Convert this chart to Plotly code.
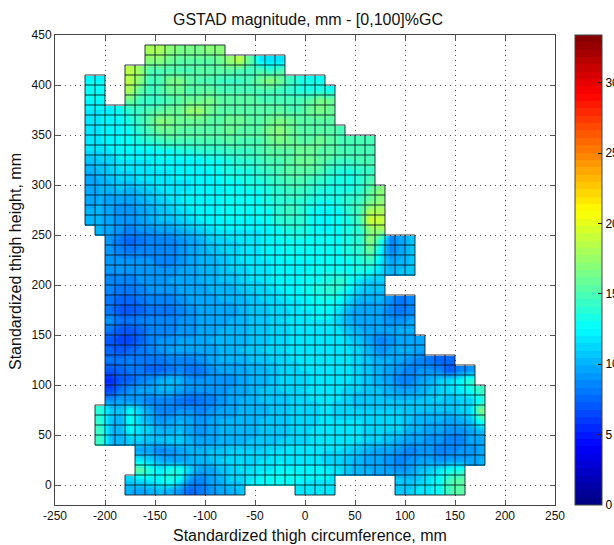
import plotly.graph_objects as go

N = None
title_text = "GSTAD magnitude, mm - [0,100]%GC"
x_label = "Standardized thigh circumference, mm"
y_label = "Standardized thigh height, mm"
x_ticks = [-250, -200, -150, -100, -50, 0, 50, 100, 150, 200, 250]
x_tick_labels = ["-250", "-200", "-150", "-100", "-50", "0", "50", "100", "150", "200", "250"]
y_ticks = [0, 50, 100, 150, 200, 250, 300, 350, 400, 450]
bar_ticks = [0, 5, 10, 15, 20, 25, 30]
z_max = 33.4

x_edges = list(range(-220, 181, 10))

rows = [
 [18,18,17,16.5,16.5,16.5,17,17],
 [17,17,16,15.5,15.5,15.5,15.5,16,17.5,18.5,15.5,12,11.5,11.5],
 [18.5,17.5,15,15,15,15,15,15.5,15.5,15.5,15.5,15,14.5,15,14,15],
 [12.5,12.5,N,N,18.5,17,14.5,15,16.5,16.5,15.5,15,15,14.5,14.5,14.5,15,16,17,16,14.5,13.5,13,13],
 [13,13,N,N,18,15.5,14.5,15,16,16,15,15.5,15.5,15,15,15,15,15,15,14.5,14,13.5,13.5,13.5,13],
 [12.5,12.5,N,N,16,14.5,14,14.5,15,15.5,16,16,16.5,15.5,15.5,15.5,15.5,15,15,15,15,15,15.5,16.5,16],
 [12,12,12,13,14,14.5,15,15.5,16,16,17.5,17.5,16,15.5,15.5,15.5,15.5,15.5,15.5,15.5,15,15,16,16.5,16],
 [12,12,12.5,12.5,13.5,14.5,15.5,17,16.5,16,16,16,15.5,15.5,16,16,15.5,15.5,16,16.5,16,15.5,15.5,15.5,15.5],
 [12,12,12.5,12.5,13,14,15,16,16,15.5,15.5,15.5,15.5,15.5,16,15.5,15.5,15.5,16.5,17,16,15.5,15.5,15.5,15.5,15],
 [12,12,12.5,12.5,13,13.5,14,14.5,15,15,15,15,15,15,15.5,15,15,15,16,16.5,16,15.5,15.5,16,15.5,15,15,15,15],
 [11.5,11.5,12,12.5,12.5,12.5,12.5,13,13,13.5,13.5,14,14,14,14.5,14.5,14.5,15,15.5,15.5,15.5,16,16,15.5,15.5,15,15,15,15],
 [10.5,11,11,12,12,12,12,12.5,12.5,12.5,12.5,12.5,13,13,13.5,14,14,14.5,15,15,15.5,16,16,15.5,15,14.5,14.5,15,15],
 [10,10.5,11,11.5,11.5,12,12,12,12,12.5,12.5,12.5,12.5,13,13.5,13.5,13.5,14,14.5,15,15.5,15.5,15.5,15,14,13.5,13.5,14,14.5],
 [9.5,10,10.5,11,11,11.5,11.5,12,12,12,12,12.5,12.5,12.5,13,13,13.5,13.5,14,14.5,15,15,14.5,14,13.5,13.5,13,14,15],
 [9.5,10,10,10.5,10,10.5,11,11.5,12,12,12,12.5,12.5,12.5,12.5,13,13,13,13.5,14,14.5,14.5,14,13.5,13.5,13.5,13.5,14,15.5,17],
 [9.5,10,9.5,9.5,9.5,10,10.5,11,11.5,12,12.5,12.5,12.5,12.5,13,13,13,13,13.5,14,14,14,13.5,13,13,13.5,14,14.5,16,17],
 [10,10,9.5,9,9,9.5,10,10.5,11,11.5,12,12.5,12.5,12.5,13,13,12.5,13,13,14,14.5,14,13,12.5,12.5,13,14,15,18,18],
 [10,10,9.5,9,9,9.5,10,10.5,10.5,11,11.5,12,12.5,12.5,12.5,12.5,12.5,12.5,13,14,14,14,13,12.5,12.5,13,13.5,15,19.5,19],
 [10,9.5,9,8.5,9,9,9.5,9.5,10,10.5,11,11.5,12,12,12,12,12,12.5,13,13.5,13.5,13,12.5,12.5,13,13.5,14,17,17.5],
 [9,8,7.5,8,8.5,8.5,8.5,9,9.5,10,11,11,11.5,11.5,12,12,12.5,12.5,13,13,13,13,13,13,13.5,14,17,14,8.5,9.5,10.5],
 [9,8.5,8,8.5,8.5,8.5,8.5,9,9.5,10,10.5,11,11,11.5,12,12,12.5,12.5,13,13,13,13,13,13,13.5,14,16,12.5,8.5,9.5,10.5],
 [9,9,9,9,9,8.5,8.5,9,9.5,10,10,10.5,11,11.5,12,12,12,12.5,12.5,12.5,12.5,12.5,13,13,13,13.5,14.5,12,9.5,10,10.5],
 [9,9,9,9,9,9,9,9.5,9.5,10,10,10.5,11,11,11.5,12,12,12.5,12.5,12.5,12.5,13,13,13,13,13.5,13,11.5,10,10.5,10.5],
 [8.5,8.5,8.5,9,9,9,9.5,9.5,9.5,10,10,10.5,10.5,11,11.5,11.5,12,12.5,12.5,12.5,13,13,13.5,14,13,11.5,11,11],
 [8.5,8,8,8.5,9,9,9,9.5,9.5,9.5,10,10,10,10.5,11,11,11.5,12,12.5,12.5,13,13.5,14,13.5,12,11,10.5,10.5],
 [8,7.5,7.5,8,8.5,8.5,8.5,9,9.5,9.5,9.5,10,10,10,10.5,11,11,11.5,12,12,12.5,13,13,12.5,11,10,10,10,9,8,8.5],
 [8,7,7,7.5,8,8,8,8.5,9,9.5,9.5,9.5,9.5,10,10.5,10.5,11,11,11.5,12,12,12.5,12.5,11.5,10,9.5,9.5,9.5,8.5,8,8.5],
 [9,8,8,8.5,8.5,8.5,8.5,9,9,9.5,9.5,9.5,10,10,10.5,10.5,11,11.5,11.5,12,12,12,12,11,10,9.5,9.5,9.5,9,9,9.5],
 [8,7,7,7.5,8.5,8.5,8.5,9,9,9.5,9.5,10,10,10,10.5,10.5,11,11,11.5,12,12,12,12,11.5,10.5,10,9.5,9.5,9.5,10,10],
 [7,6.5,6.5,7.5,8.5,9,9,9.5,9.5,9.5,10,10,10,10,10.5,10.5,11,11,11.5,12,12,12,12,12,11,10.5,9.5,8.5,9,9.5,9.5,9.5],
 [7.5,7,7.5,8,8.5,9,9.5,9.5,9.5,9.5,9.5,10,10,10.5,10.5,11,11,11.5,11.5,12,12,12,12,12,11.5,11,10,9,9.5,10,10,9.5],
 [8,8,8.5,8,8,8,8.5,8.5,8.5,9,9.5,10,10,10,10.5,10.5,11,11,11.5,11.5,12,12,12,12,11.5,11,10.5,10,10,9.5,9,8.5,8,7.5,7.5],
 [7,7.5,8,8,7.5,7.5,8,8.5,8,8,9,9.5,9.5,9.5,10,10,10.5,11,11,11.5,11.5,12,12,12,11.5,11,10.5,10,9.5,9,8.5,9,9,8.5,7,8.5,9],
 [5.5,7,7.5,8.5,9,10,10.5,10,9,9,9,9,9,9.5,10,10,10.5,11,11,11,11.5,11.5,12,12,11.5,11,10.5,10,9.5,8.5,8.5,9.5,10,11,11.5,12.5,14],
 [6.5,8,9,9.5,9.5,10,10,9.5,9,9,9,9,9.5,9.5,10,10.5,10.5,11,11,11.5,11.5,12,12,11.5,11,11,10.5,10.5,10,9.5,9.5,10,10.5,11,11.5,12,13,14.5],
 [9,9.5,9,9,8.5,8.5,8.5,8,7.5,8,8.5,9,9.5,10,10,10.5,10.5,10.5,11,11,11.5,11.5,11.5,11.5,11,10.5,10.5,10.5,10.5,10.5,10.5,10.5,11,11,10.5,11,11,13],
 [14,11,10.5,12.5,11,9.5,8.5,8.5,9,9,8.5,9,9.5,9.5,10,10,10,10.5,10.5,11,11,11,11.5,11.5,11,11,11,11,11,11,11,10.5,10.5,10.5,10.5,10.5,11,11.5,16.5],
 [14,10.5,10,13,11,10,9,9.5,10,9.5,9,9.5,10,10,10,10,10.5,10.5,10.5,11,11,11,11.5,11.5,11.5,11.5,11.5,11,11,11,11,10.5,10,10,10,9.5,10,10.5,13.5],
 [14.5,10.5,10,12.5,11.5,11,10,10,10.5,9.5,9,9.5,10,10,10,10,10.5,10.5,10.5,11,11,11.5,12,12,12,12,11.5,11,11,11,11,10,10,9.5,9.5,9,9,9.5,10.5],
 [14.5,10.5,10,11,11,10.5,10.5,11,11,10,9.5,9.5,10,10,10,10.5,10.5,10.5,11,11,11,11.5,12,12,12,12,11.5,11,11,10.5,10,9.5,9.5,9,9,8.5,8.5,9.5,9.5],
 [9.5,9.5,8.5,9,9.5,10,10,10.5,10.5,11,11,11,11,11.5,11.5,12,12,11.5,11.5,11.5,11.5,11,10.5,10,9.5,9.5,9,8.5,9,9,8.5,8.5,9,9,9.5],
 [12,11,10,9.5,9.5,10,10,10.5,11,11,11.5,11,11.5,11.5,12,11.5,11.5,11.5,11.5,11,11,10.5,10,9.5,9.5,9,8.5,9,9.5,9.5,9,9.5,9.5,9.5,10],
 [15.5,13.5,12,13.5,13.5,11,9.5,9.5,10.5,11,11.5,11.5,12,12,12.5,12.5,12.5,12.5,12.5,12,11.5,10.5,10,10,9.5,9.5,9,9.5,10.5,11,12,13,13.5],
 [11,11.5,12,12.5,13.5,12,9,8.5,9.5,10,11,11,12,12.5,13,13,13,12.5,12,12,12,N,N,N,N,N,N,11,10.5,11,12,13,15,15.5],
 [10,9.5,10,10.5,10,9,7.5,8,9,9.5,10,10.5,N,N,N,N,N,11.5,11.5,11.5,11.5,N,N,N,N,N,N,10.5,11,12,12,13,15,15.5],
]
row_first_x = [-160, -160, -180] + [-220] * 15 + [-210] + [-200] * 17 + [-210] * 4 + [-170] * 3 + [-180] * 2
row_bottoms = list(range(430, -20, -10))

# full grid, lowest row first
y_edges = row_bottoms[::-1] + [row_bottoms[0] + 10]
z = []
for first, vals in zip(row_first_x[::-1], rows[::-1]):
    start = (first - x_edges[0]) // 10
    row = [None] * (len(x_edges) - 1)
    row[start:start + len(vals)] = vals
    z.append(row[:len(x_edges) - 1])

def jet(t):
    f = lambda a: max(0.0, min(1.0, a))
    return (f(1.5 - abs(4 * t - 3)), f(1.5 - abs(4 * t - 2)), f(1.5 - abs(4 * t - 1)))

levels = 64
scale = []
for i in range(levels):
    r, g, b = jet((i + 0.5) / levels)
    c = f"rgb({round(r*255)},{round(g*255)},{round(b*255)})"
    scale += [[i / levels, c], [(i + 1) / levels, c]]

fig = go.Figure()
fig.add_trace(go.Heatmap(
    x=x_edges, y=y_edges, z=z, zmin=0, zmax=z_max, zsmooth="best",
    colorscale=scale, hoverongaps=False,
    colorbar=dict(
        xref="container", x=575 / 614, xanchor="left", xpad=0, ypad=0,
        yref="paper", y=0, yanchor="bottom", len=1, lenmode="fraction",
        thickness=27, thicknessmode="pixels",
        tickvals=bar_ticks, ticks="inside", ticklen=4, tickcolor="#222", tickwidth=1,
        outlinecolor="#444", outlinewidth=1,
        tickfont=dict(family="Liberation Sans", size=12, color="black"),
    ),
))

# mesh lines around every defined cell
seg_x, seg_y = [], []
seen = set()
for j, row in enumerate(z):
    for i, v in enumerate(row):
        if v is None:
            continue
        x0, x1, y0, y1 = x_edges[i], x_edges[i + 1], y_edges[j], y_edges[j + 1]
        for a, b in (((x0, y0), (x1, y0)), ((x0, y1), (x1, y1)), ((x0, y0), (x0, y1)), ((x1, y0), (x1, y1))):
            if (a, b) not in seen:
                seen.add((a, b))
                seg_x += [a[0], b[0], None]
                seg_y += [a[1], b[1], None]
fig.add_trace(go.Scatter(x=seg_x, y=seg_y, mode="lines", line=dict(color="rgb(5,20,30)", width=0.85),
                         hoverinfo="skip", showlegend=False))

axis = dict(
    showline=True, linecolor="#444", linewidth=1, mirror="ticks",
    ticks="inside", ticklen=5, tickcolor="#555", tickwidth=1,
    showgrid=True, gridcolor="#555", gridwidth=1, griddash="1px,4px", zeroline=False,
    tickfont=dict(family="Liberation Sans", size=12, color="#111"),
)
label_font = dict(size=16, family="Liberation Sans", color="#111")
fig.update_layout(
    width=614, height=545, paper_bgcolor="white", plot_bgcolor="white",
    margin=dict(l=55, r=59, t=35, b=40, autoexpand=False),
    font=dict(family="Liberation Sans", color="black"),
    showlegend=False,
    title=dict(text=title_text, x=308 / 614, xanchor="center", y=1 - 19 / 545, yanchor="middle",
               font=label_font),
    xaxis=dict(axis, range=[-250, 250], tickvals=x_ticks, ticktext=x_tick_labels),
    yaxis=dict(axis, range=[-20, 450], tickvals=y_ticks),
    annotations=[
        dict(text=x_label, xref="paper", yref="paper", x=(309.5 - 55) / 500, y=-(535 - 505) / 470,
             xanchor="center", yanchor="middle", showarrow=False, font=label_font),
        dict(text=y_label, xref="paper", yref="paper", x=-(55 - 15) / 500, y=(505 - 262) / 470,
             xanchor="center", yanchor="middle", textangle=-90, showarrow=False, font=label_font),
    ],
    shapes=[dict(type="line", xref="paper", yref="paper", x0=(575 - 55) / 500, x1=(579 - 55) / 500,
                 y0=v / z_max, y1=v / z_max, line=dict(color="#222", width=1)) for v in bar_ticks[1:]],
)
fig.write_html("out.html", config={"displayModeBar": False},
               post_script="document.body.style.margin='0';document.documentElement.style.overflow='hidden';")
